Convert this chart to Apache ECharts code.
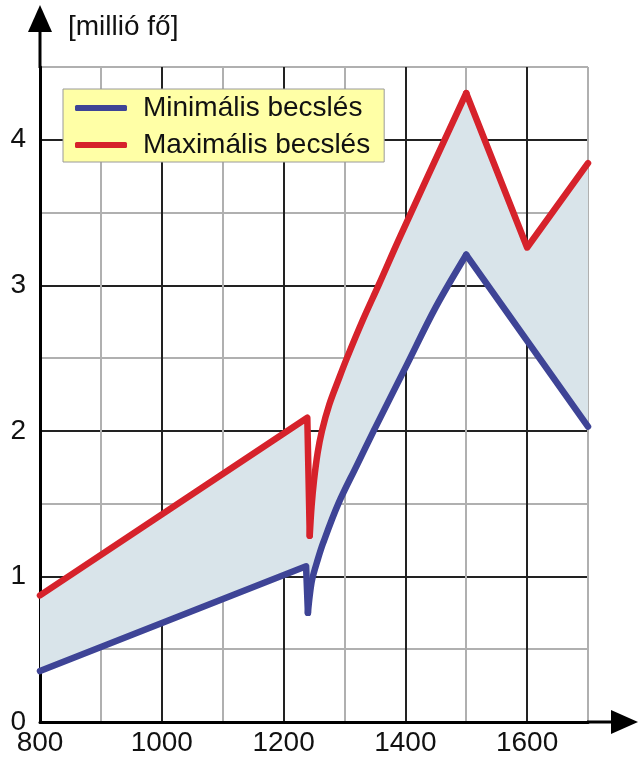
<!DOCTYPE html>
<html>
<head>
<meta charset="utf-8">
<script src="https://cdn.jsdelivr.net/npm/echarts@6/dist/echarts.min.js"></script>
<style>
html,body{margin:0;padding:0;background:#fff;}
#chart{width:640px;height:762px;}
</style>
</head>
<body>
<div id="chart"></div>
<script>
// Minimális becslés (millió fő)
const minYears = [800, 1237, 1240, 1243, 1247, 1255, 1265, 1290, 1320, 1348, 1402, 1450, 1500, 1700];
const minVals  = [0.35, 1.07, 0.75, 0.87, 0.98, 1.10, 1.23, 1.50, 1.76, 2.00, 2.45, 2.85, 3.21, 2.03];
// Maximális becslés (millió fő)
const maxYears = [800, 1239, 1243, 1246, 1250, 1256, 1263, 1275, 1291, 1304, 1330, 1357, 1392, 1500, 1600, 1700];
const maxVals  = [0.87, 2.09, 1.28, 1.48, 1.66, 1.85, 2.00, 2.18, 2.36, 2.50, 2.76, 3.01, 3.34, 4.32, 3.26, 3.84];
const seriesNames = ['Minimális becslés', 'Maximális becslés'];
const yAxisName = '[millió fő]';
// index ranges of the curved (post-1241) recovery stretch in each series
const minCurve = [2, 12];
const maxCurve = [2, 13];

const FONT = '"Liberation Sans", Arial, sans-serif';
const toPairs = (xs, ys) => xs.map((x, i) => [x, ys[i]]);
const minData = toPairs(minYears, minVals);
const maxData = toPairs(maxYears, maxVals);

function lineParts(name, data, curve, color) {
  const base = {
    name: name, type: 'line', showSymbol: false, z: 3, color: color,
    lineStyle: {color: color, width: 6.5, join: 'round', cap: 'round'}
  };
  return [
    Object.assign({}, base, {data: data.slice(0, curve[0] + 1)}),
    Object.assign({}, base, {data: data.slice(curve[0], curve[1] + 1), smooth: 0.35}),
    Object.assign({}, base, {data: data.slice(curve[1])})
  ];
}

const chart = echarts.init(document.getElementById('chart'), null, {renderer: 'canvas'});
chart.setOption({
  animation: false,
  backgroundColor: '#fff',
  grid: {left: 40, right: 52, top: 67, bottom: 40, containLabel: false},
  legend: {
    data: seriesNames,
    orient: 'vertical',
    left: 63, top: 89,
    backgroundColor: '#ffffa6',
    borderColor: '#9a9a9a',
    borderWidth: 1,
    padding: [5, 14, 3, 12],
    itemWidth: 52, itemHeight: 6, itemGap: 9,
    icon: 'roundRect',
    textStyle: {fontFamily: FONT, fontSize: 28, color: '#111', padding: [0, 0, 0, 11]}
  },
  xAxis: {
    type: 'value', min: 800, max: 1700, interval: 100,
    axisLine: {show: true, lineStyle: {color: '#000', width: 3}},
    axisTick: {show: false},
    axisLabel: {
      fontFamily: FONT, fontSize: 28, color: '#111', margin: 7,
      formatter: v => (v % 200 === 0 ? String(v) : '')
    },
    splitLine: {show: true, lineStyle: {color: ['#222', '#b0b0b0'], width: 2}}
  },
  yAxis: {
    type: 'value', min: 0, max: 4.5, interval: 0.5,
    name: yAxisName, nameLocation: 'end', nameGap: 40,
    nameTextStyle: {fontFamily: FONT, fontSize: 28, color: '#111', align: 'left', verticalAlign: 'middle', padding: [0, 0, 0, 28]},
    axisLine: {show: true, lineStyle: {color: '#000', width: 3}},
    axisTick: {show: false},
    axisLabel: {
      fontFamily: FONT, fontSize: 28, color: '#111', margin: 14,
      formatter: v => (Number.isInteger(v) ? String(v) : '')
    },
    splitLine: {show: true, lineStyle: {color: ['#222', '#b0b0b0'], width: 2}}
  },
  graphic: [
    {type: 'line', shape: {x1: 40, y1: 68, x2: 40, y2: 25}, style: {stroke: '#000', lineWidth: 3}, z: 100},
    {type: 'polygon', shape: {points: [[40, 5], [28, 32], [52, 32]]}, style: {fill: '#000'}, z: 100},
    {type: 'line', shape: {x1: 587, y1: 722, x2: 620, y2: 722}, style: {stroke: '#000', lineWidth: 3}, z: 100},
    {type: 'polygon', shape: {points: [[638, 722], [611, 710], [611, 734]]}, style: {fill: '#000'}, z: 100}
  ],
  series: [
    {
      type: 'custom',
      silent: true,
      z: 1,
      data: [0],
      renderItem: function (params, api) {
        const pts = [];
        for (let i = 0; i < maxYears.length; i++) pts.push(api.coord([maxYears[i], maxVals[i]]));
        for (let i = minYears.length - 1; i >= 0; i--) pts.push(api.coord([minYears[i], minVals[i]]));
        return {type: 'polygon', shape: {points: pts, smooth: 0}, style: {fill: '#d9e4ea', stroke: null}};
      }
    }
  ].concat(
    lineParts(seriesNames[0], minData, minCurve, '#3e4496'),
    lineParts(seriesNames[1], maxData, maxCurve, '#d6222b')
  )
});
</script>
</body>
</html>
